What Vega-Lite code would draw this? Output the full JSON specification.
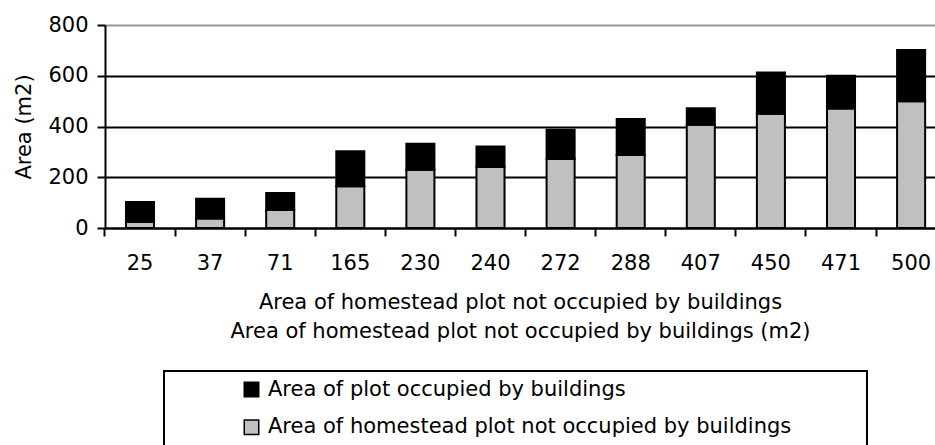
{
  "$schema": "https://vega.github.io/schema/vega-lite/v6.json",
  "width": 830,
  "height": 203,
  "autosize": {"type": "none"},
  "padding": {"left": 105, "top": 25, "right": 0, "bottom": 217},
  "background": "white",
  "config": {
    "font": "DejaVu Sans",
    "view": {"stroke": null}
  },
  "data": {
    "values": [
      {"plot": 25, "series": "Area of homestead plot not occupied by buildings", "area": 25},
      {"plot": 25, "series": "Area of plot occupied by buildings", "area": 77},
      {"plot": 37, "series": "Area of homestead plot not occupied by buildings", "area": 37},
      {"plot": 37, "series": "Area of plot occupied by buildings", "area": 78},
      {"plot": 71, "series": "Area of homestead plot not occupied by buildings", "area": 71},
      {"plot": 71, "series": "Area of plot occupied by buildings", "area": 67},
      {"plot": 165, "series": "Area of homestead plot not occupied by buildings", "area": 165},
      {"plot": 165, "series": "Area of plot occupied by buildings", "area": 137},
      {"plot": 230, "series": "Area of homestead plot not occupied by buildings", "area": 230},
      {"plot": 230, "series": "Area of plot occupied by buildings", "area": 102},
      {"plot": 240, "series": "Area of homestead plot not occupied by buildings", "area": 240},
      {"plot": 240, "series": "Area of plot occupied by buildings", "area": 81},
      {"plot": 272, "series": "Area of homestead plot not occupied by buildings", "area": 272},
      {"plot": 272, "series": "Area of plot occupied by buildings", "area": 115},
      {"plot": 288, "series": "Area of homestead plot not occupied by buildings", "area": 288},
      {"plot": 288, "series": "Area of plot occupied by buildings", "area": 142},
      {"plot": 407, "series": "Area of homestead plot not occupied by buildings", "area": 407},
      {"plot": 407, "series": "Area of plot occupied by buildings", "area": 65},
      {"plot": 450, "series": "Area of homestead plot not occupied by buildings", "area": 450},
      {"plot": 450, "series": "Area of plot occupied by buildings", "area": 163},
      {"plot": 471, "series": "Area of homestead plot not occupied by buildings", "area": 471},
      {"plot": 471, "series": "Area of plot occupied by buildings", "area": 129},
      {"plot": 500, "series": "Area of homestead plot not occupied by buildings", "area": 500},
      {"plot": 500, "series": "Area of plot occupied by buildings", "area": 201}
    ]
  },
  "mark": {"type": "bar", "stroke": "black", "strokeWidth": 2},
  "encoding": {
    "x": {
      "field": "plot",
      "type": "ordinal",
      "scale": {"paddingInner": 0.6, "paddingOuter": 0.22, "align": 0.68},
      "axis": {
        "title": ["Area of homestead plot not occupied by buildings", "Area of homestead plot not occupied by buildings (m2)"],
        "labelAngle": 0,
        "labelFontSize": 21,
        "labelColor": "black",
        "labelPadding": 16,
        "labelOverlap": false,
        "tickSize": 8,
        "tickWidth": 2,
        "tickColor": "black",
        "bandPosition": -0.75,
        "domainColor": "black",
        "domainWidth": 2,
        "grid": false,
        "titleFontSize": 21,
        "titleFontWeight": "normal",
        "titleColor": "black",
        "titlePadding": 18,
        "titleLineHeight": 29
      }
    },
    "y": {
      "field": "area",
      "type": "quantitative",
      "stack": "zero",
      "scale": {"domain": [0, 800], "nice": false},
      "axis": {
        "title": "Area (m2)",
        "values": [0, 200, 400, 600, 800],
        "labelFontSize": 21,
        "labelColor": "black",
        "labelPadding": 9,
        "tickSize": 8,
        "tickWidth": 2,
        "tickColor": "black",
        "domainColor": "black",
        "domainWidth": 2,
        "grid": true,
        "gridWidth": 2,
        "gridColor": {"condition": {"test": "datum.value === 800", "value": "#969696"}, "value": "black"},
        "titleFontSize": 21,
        "titleFontWeight": "normal",
        "titleColor": "black",
        "titlePadding": 13
      }
    },
    "color": {
      "field": "series",
      "type": "nominal",
      "scale": {
        "domain": ["Area of plot occupied by buildings", "Area of homestead plot not occupied by buildings"],
        "range": ["#000000", "#c0c0c0"]
      },
      "legend": {
        "orient": "none",
        "legendX": 59,
        "legendY": 346,
        "title": ".",
        "titleOrient": "right",
        "titleOpacity": 0,
        "titleFontSize": 21,
        "titlePadding": 60,
        "padding": 8,
        "symbolOffset": 69,
        "symbolType": "square",
        "symbolSize": 210,
        "symbolStrokeColor": "black",
        "symbolStrokeWidth": 1.5,
        "symbolOpacity": 1,
        "labelFontSize": 21,
        "labelColor": "black",
        "labelOffset": 6,
        "labelLimit": 1000,
        "rowPadding": 15.7,
        "strokeColor": "black",
        "fillColor": "white",
        "encode": {"legend": {"update": {"strokeWidth": {"value": 2}}}}
      }
    },
    "order": {"field": "series", "sort": "ascending"}
  }
}
